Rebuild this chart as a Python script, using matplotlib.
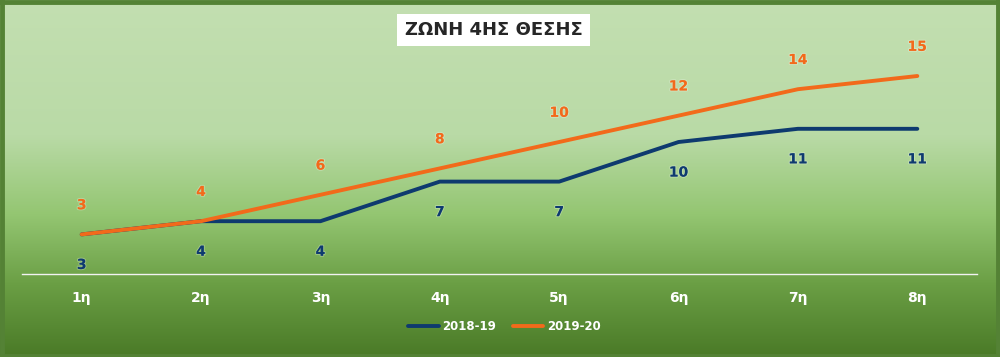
#!/usr/bin/env python3
import numpy as np
import matplotlib
matplotlib.use("Agg")
import matplotlib.pyplot as plt
from matplotlib.colors import LinearSegmentedColormap
import matplotlib.patheffects as pe

categories = ["1η", "2η", "3η", "4η", "5η", "6η", "7η", "8η"]
season_1819 = [3, 4, 4, 7, 7, 10, 11, 11]
season_1920 = [3, 4, 6, 8, 10, 12, 14, 15]
series_names = ["2018-19", "2019-20"]

navy = "#0e3a6f"
orange = "#f26a1b"

fig = plt.figure(figsize=(10.0, 3.57), dpi=100)

### background gradient ###
bg = fig.add_axes([0, 0, 1, 1], zorder=0)
cmap = LinearSegmentedColormap.from_list(
    "bg", [(0.0, "#c3dfb1"), (0.38, "#b9daa6"), (0.6, "#94c672"),
           (0.8, "#6a9e44"), (1.0, "#4a7a27")])
grad = np.linspace(0, 1, 256).reshape(-1, 1)
bg.imshow(grad, aspect="auto", cmap=cmap, extent=[0, 1, 0, 1], origin="upper")
bg.set_xlim(0, 1)
bg.set_ylim(0, 1)
bg.axis("off")
for x0, y0, x1, y1 in [(0, 0.995, 1, 0.995), (0, 0.003, 1, 0.003),
                       (0.002, 0, 0.002, 1), (0.998, 0, 0.998, 1)]:
    bg.plot([x0, x1], [y0, y1], color="#548235", lw=3.5,
            transform=bg.transAxes, clip_on=False)

### main plot ###
ax = fig.add_axes([0.022, 0.2325, 0.955, 0.6655], zorder=1)
ax.patch.set_alpha(0)
x = np.arange(len(categories))
ax.plot(x, season_1819, color=navy, lw=2.8, label=series_names[0],
        solid_capstyle="round")
ax.plot(x, season_1920, color=orange, lw=2.8, label=series_names[1],
        solid_capstyle="round")
ax.set_xlim(-0.5, len(categories) - 0.5)
ax.set_ylim(0, 18)

halo = [pe.withStroke(linewidth=1.5, foreground=(1, 1, 1, 0.25))]
for xi, v in zip(x, season_1920):
    ax.annotate(str(v), (xi, v), xytext=(0, 21), textcoords="offset points",
                ha="center", va="center", color=orange, fontsize=10,
                fontweight="bold", path_effects=halo)
for xi, v in zip(x, season_1819):
    ax.annotate(str(v), (xi, v), xytext=(0, -22), textcoords="offset points",
                ha="center", va="center", color=navy, fontsize=10,
                fontweight="bold", path_effects=halo)

for s in ["top", "right", "left"]:
    ax.spines[s].set_visible(False)
ax.spines["bottom"].set_color("#f2f2f2")
ax.spines["bottom"].set_linewidth(1.0)
ax.set_yticks([])
ax.set_xticks(x)
ax.set_xticklabels(categories, color="white", fontsize=10, fontweight="bold")
ax.tick_params(axis="x", length=0, pad=12)

leg = ax.legend(loc="center", bbox_to_anchor=(0.505, 1 - (327 - 36.4) / 237.6),
                bbox_transform=ax.transAxes, ncol=2, frameon=False,
                handlelength=2.6, columnspacing=1.4, handletextpad=0.3,
                prop={"weight": "bold", "size": 8.5})
for t in leg.get_texts():
    t.set_color("white")

fig.text(0.4935, 1 - 30 / 357, "ΖΩΝΗ 4ΗΣ ΘΕΣΗΣ", ha="center", va="center",
         fontsize=13, fontweight="bold", color="#262626",
         bbox=dict(boxstyle="square,pad=0.4", facecolor="white",
                   edgecolor="none"), zorder=3)

fig.savefig("out.png", dpi=100)
